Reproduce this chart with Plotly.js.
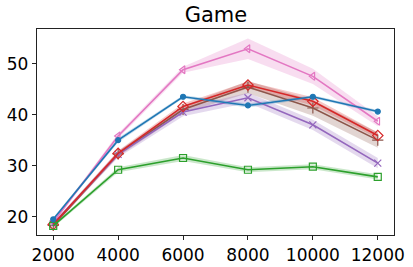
<!DOCTYPE html>
<html>
<head>
<meta charset="utf-8">
<script src="https://cdn.plot.ly/plotly-3.0.1.min.js"></script>
<style>html,body{margin:0;padding:0;background:#fff;}#chart{width:413px;height:267px;}</style>
</head>
<body>
<div id="chart"></div>
<script>
const steps = [2000, 4000, 6000, 8000, 10000, 12000];

const blueMean   = [19.5, 35.0, 43.5, 41.8, 43.5, 40.6];
const blueStd    = [0.3, 0.4, 0.3, 0.4, 0.3, 0.3];
const greenMean  = [18.2, 29.2, 31.5, 29.2, 29.8, 27.8];
const greenStd   = [0.3, 0.5, 0.6, 0.5, 0.5, 0.5];
const redMean    = [18.5, 32.4, 41.6, 45.8, 42.6, 35.9];
const redStd     = [0.3, 0.5, 0.6, 0.7, 0.8, 0.6];
const purpleMean = [18.6, 32.2, 40.5, 43.3, 38.0, 30.5];
const purpleStd  = [0.3, 0.6, 0.8, 1.0, 1.0, 1.0];
const brownMean  = [18.3, 32.3, 41.0, 45.4, 41.3, 35.0];
const brownStd   = [0.3, 0.5, 0.7, 1.2, 1.5, 1.5];
const pinkMean   = [18.9, 35.8, 48.8, 52.9, 47.5, 38.7];
const pinkStd    = [0.3, 0.5, 0.6, 2.0, 1.5, 1.0];

const seriesList = [
  {mean: pinkMean,   std: pinkStd,   color: '#e377c2', fill: 'rgba(227,119,194,0.25)', symbol: 'triangle-left-open', size: 7},
  {mean: brownMean,  std: brownStd,  color: '#8c564b', fill: 'rgba(140,86,75,0.25)',   symbol: 'cross-thin-open', size: 8},
  {mean: purpleMean, std: purpleStd, color: '#9467bd', fill: 'rgba(148,103,189,0.25)', symbol: 'x-thin-open', size: 7},
  {mean: redMean,    std: redStd,    color: '#d62728', fill: 'rgba(214,39,40,0.25)',   symbol: 'diamond-open', size: 8},
  {mean: greenMean,  std: greenStd,  color: '#2ca02c', fill: 'rgba(44,160,44,0.25)',   symbol: 'square-open', size: 7},
  {mean: blueMean,   std: blueStd,   color: '#1f77b4', fill: 'rgba(31,119,180,0.25)',  symbol: 'circle', size: 5}
];

const traces = [];
seriesList.forEach(s => {
  const upper = s.mean.map((m, i) => m + s.std[i]);
  const lower = s.mean.map((m, i) => m - s.std[i]);
  traces.push({x: steps, y: upper, mode: 'lines', line: {width: 0, color: s.fill}, hoverinfo: 'skip', showlegend: false});
  traces.push({x: steps, y: lower, mode: 'lines', line: {width: 0, color: s.fill}, fill: 'tonexty', fillcolor: s.fill, hoverinfo: 'skip', showlegend: false});
});
seriesList.forEach(s => {
  traces.push({x: steps, y: s.mean, mode: 'lines+markers', line: {color: s.color, width: 1.6},
    marker: {symbol: s.symbol, size: s.size, color: s.color, line: {color: s.color, width: 1.2}}, showlegend: false});
});

const layout = {
  width: 413, height: 267,
  margin: {l: 37, r: 19, t: 29, b: 32},
  paper_bgcolor: '#fff', plot_bgcolor: '#fff',
  font: {family: 'DejaVu Sans', color: '#000'},
  title: {text: 'Game', font: {size: 21, family: 'DejaVu Sans', color: '#000'}, x: 0.523, xanchor: 'center', y: 0.945, yanchor: 'middle'},
  xaxis: {range: [1500, 12500], tickvals: steps, ticktext: steps.map(String), showgrid: false, zeroline: false,
    showline: true, mirror: true, linecolor: '#222', linewidth: 1.2, ticks: 'outside', ticklen: 4, tickcolor: '#222',
    tickfont: {size: 17}},
  yaxis: {range: [16.42, 56.77], tickvals: [20, 30, 40, 50], showgrid: false, zeroline: false,
    showline: true, mirror: true, linecolor: '#222', linewidth: 1.2, ticks: 'outside', ticklen: 4, tickcolor: '#222',
    tickfont: {size: 17}}
};

Plotly.newPlot('chart', traces, layout, {displayModeBar: false, staticPlot: true});
</script>
</body>
</html>
